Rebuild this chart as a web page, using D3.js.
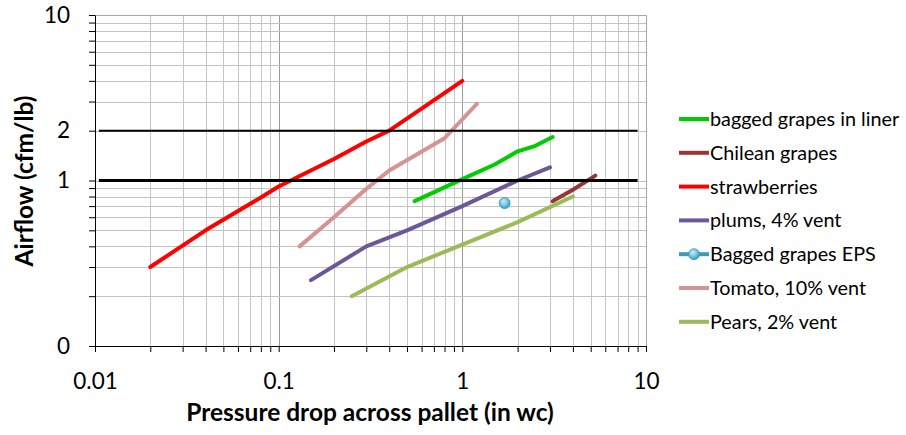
<!DOCTYPE html>
<html>
<head>
<meta charset="utf-8">
<script src="https://cdn.jsdelivr.net/npm/d3@7"></script>
<style>
  body { margin: 0; background: #fff; }
  svg { display: block; font-family: Lato, "Open Sans", sans-serif; }
</style>
</head>
<body>
<svg width="906" height="435"></svg>
<script>
// Series values [pressure drop (in wc), airflow (cfm/lb)]
const baggedLiner = [[0.55, 0.75], [1, 1.02], [1.5, 1.25], [2, 1.5], [2.5, 1.62], [3.1, 1.83]];
const chilean = [[3.1, 0.75], [4, 0.88], [5.3, 1.07]];
const strawberries = [[0.02, 0.3], [0.04, 0.5], [0.08, 0.79], [0.1, 0.92], [0.2, 1.35], [0.3, 1.72], [0.4, 2.0], [1, 4.0]];
const plums = [[0.15, 0.25], [0.3, 0.4], [0.5, 0.5], [1, 0.7], [2, 1.0], [3, 1.2]];
const baggedEPS = [[1.7, 0.73]];
const tomato = [[0.13, 0.4], [0.2, 0.6], [0.3, 0.89], [0.4, 1.15], [0.8, 1.8], [1.2, 2.9]];
const pears = [[0.25, 0.2], [0.5, 0.3], [1, 0.41], [2, 0.56], [4, 0.8]];

const seriesNames = ["bagged grapes in liner", "Chilean grapes", "strawberries", "plums, 4% vent",
  "Bagged grapes EPS", "Tomato, 10% vent", "Pears, 2% vent"];

// Reference levels (black lines)
const refLevels = [2, 1];
const refRange = [0.0105, 9];

// Tick labels
const xLabelValues = [0.01, 0.1, 1, 10];
const xLabels = ["0.01", "0.1", "1", "10"];
const yLabelValues = [10, 2, 1, 0.1];
const yLabels = ["10", "2", "1", "0"];

const series = [
  { name: seriesNames[0], color: "#00cc00", values: baggedLiner },
  { name: seriesNames[1], color: "#953735", values: chilean },
  { name: seriesNames[2], color: "#ff0000", values: strawberries },
  { name: seriesNames[3], color: "#6c5896", values: plums },
  { name: seriesNames[4], color: "#3e9bb6", values: baggedEPS, marker: true },
  { name: seriesNames[5], color: "#d69391", values: tomato },
  { name: seriesNames[6], color: "#9bbb59", values: pears },
];

const svg = d3.select("svg");

// Scales
const x = d3.scaleLog().domain([0.01, 10]).range([95, 646]);
const y = d3.scaleLog().domain([0.1, 10]).range([346, 15]);

// Gridlines
const grid = svg.append("g");
const majorX = [0.1, 1];
grid.selectAll(".vgrid")
  .data(x.ticks().filter((d) => d > 0.01 && d < 10))
  .join("line")
  .attr("x1", (d) => Math.round(x(d)) + 0.5)
  .attr("x2", (d) => Math.round(x(d)) + 0.5)
  .attr("y1", y(10))
  .attr("y2", y(0.1))
  .attr("stroke", (d) => (majorX.some((m) => Math.abs(m - d) < 1e-9) ? "#9a9a9a" : "#c6c6c6"));
grid.selectAll(".hgrid")
  .data(y.ticks().filter((d) => d > 0.1 && d < 10))
  .join("line")
  .attr("x1", x(0.01))
  .attr("x2", x(10))
  .attr("y1", (d) => Math.round(y(d)) + 0.5)
  .attr("y2", (d) => Math.round(y(d)) + 0.5)
  .attr("stroke", "#c2c2c2");

// Plot border (top, right)
svg.append("path")
  .attr("d", `M${x(0.01)},${y(10) + 0.5}H${x(10) + 0.5}V${y(0.1)}`)
  .attr("fill", "none")
  .attr("stroke", "#a6a6a6");

// Lines
const line = d3.line()
  .x((d) => x(d[0]))
  .y((d) => y(d[1]));

const defs = svg.append("defs");
const grad = defs.append("radialGradient")
  .attr("id", "marker-grad")
  .attr("cx", "40%").attr("cy", "35%").attr("r", "65%");
grad.append("stop").attr("offset", "0%").attr("stop-color", "#c9ecf7");
grad.append("stop").attr("offset", "60%").attr("stop-color", "#6cc3dd");
grad.append("stop").attr("offset", "100%").attr("stop-color", "#3a9bb8");

const plot = svg.append("g");
series.forEach((s) => {
  if (s.values.length > 1) {
    plot.append("path")
      .datum(s.values)
      .attr("fill", "none")
      .attr("stroke", s.color)
      .attr("stroke-width", 4)
      .attr("stroke-linecap", "round")
      .attr("stroke-linejoin", "round")
      .attr("d", line);
  }
  if (s.marker) {
    plot.selectAll(null)
      .data(s.values)
      .join("circle")
      .attr("cx", (d) => x(d[0]))
      .attr("cy", (d) => y(d[1]))
      .attr("r", 5.5)
      .attr("fill", "url(#marker-grad)")
      .attr("stroke", "#3a93ad")
      .attr("stroke-width", 0.8);
  }
});

// Black reference lines
refLevels.forEach((lv, i) => {
  plot.append("line")
    .attr("x1", x(refRange[0]))
    .attr("x2", x(refRange[1]))
    .attr("y1", y(lv))
    .attr("y2", y(lv))
    .attr("stroke", "#000")
    .attr("stroke-width", i === 0 ? 2 : 3);
});

// Axes: tick marks
const xTicks = svg.append("g")
  .attr("transform", `translate(0, ${y(0.1)})`)
  .call(d3.axisBottom(x).tickValues(x.ticks()).tickFormat("").tickSize(6).tickSizeOuter(0));
const yTicks = svg.append("g")
  .attr("transform", `translate(${x(0.01)}, 0)`)
  .call(d3.axisLeft(y).tickValues(y.ticks()).tickFormat("").tickSize(6).tickSizeOuter(0));
[xTicks, yTicks].forEach((g) => {
  g.selectAll(".domain").attr("stroke", "#000");
  g.selectAll(".tick line").attr("stroke", "#000");
});

// Axes: labels
const xLab = svg.append("g")
  .attr("transform", `translate(0, ${y(0.1)})`)
  .call(d3.axisBottom(x).tickValues(xLabelValues)
    .tickFormat((d, i) => xLabels[i]).tickSize(0).tickPadding(27));
const yLab = svg.append("g")
  .attr("transform", `translate(${x(0.01)}, 0)`)
  .call(d3.axisLeft(y).tickValues(yLabelValues)
    .tickFormat((d, i) => yLabels[i]).tickSize(0).tickPadding(25));
[xLab, yLab].forEach((g) => {
  g.select(".domain").remove();
  g.selectAll(".tick text")
    .attr("fill", "#000")
    .style("font-family", "Lato, sans-serif")
    .style("font-size", "22.5px");
});

// Axis titles
svg.append("text")
  .attr("x", 370)
  .attr("y", 421)
  .attr("text-anchor", "middle")
  .style("font-size", "24.5px")
  .style("font-weight", "bold")
  .text("Pressure drop across pallet (in wc)");

svg.append("text")
  .attr("transform", "translate(33, 181) rotate(-90)")
  .attr("text-anchor", "middle")
  .style("font-size", "24.5px")
  .style("font-weight", "bold")
  .text("Airflow (cfm/lb)");

// Legend
const legend = svg.append("g").attr("transform", "translate(679, 119)");
const rows = legend.selectAll("g")
  .data(series)
  .join("g")
  .attr("transform", (d, i) => `translate(0, ${i * 33.8})`);
rows.append("line")
  .attr("x1", 0)
  .attr("x2", 30)
  .attr("stroke", (d) => d.color)
  .attr("stroke-width", 4);
rows.filter((d) => d.marker)
  .append("circle")
  .attr("cx", 15)
  .attr("r", 5.5)
  .attr("fill", "url(#marker-grad)")
  .attr("stroke", "#3a93ad")
  .attr("stroke-width", 0.8);
rows.append("text")
  .attr("x", 31)
  .attr("dy", "0.35em")
  .style("font-size", "19.8px")
  .text((d) => d.name);
</script>
</body>
</html>
